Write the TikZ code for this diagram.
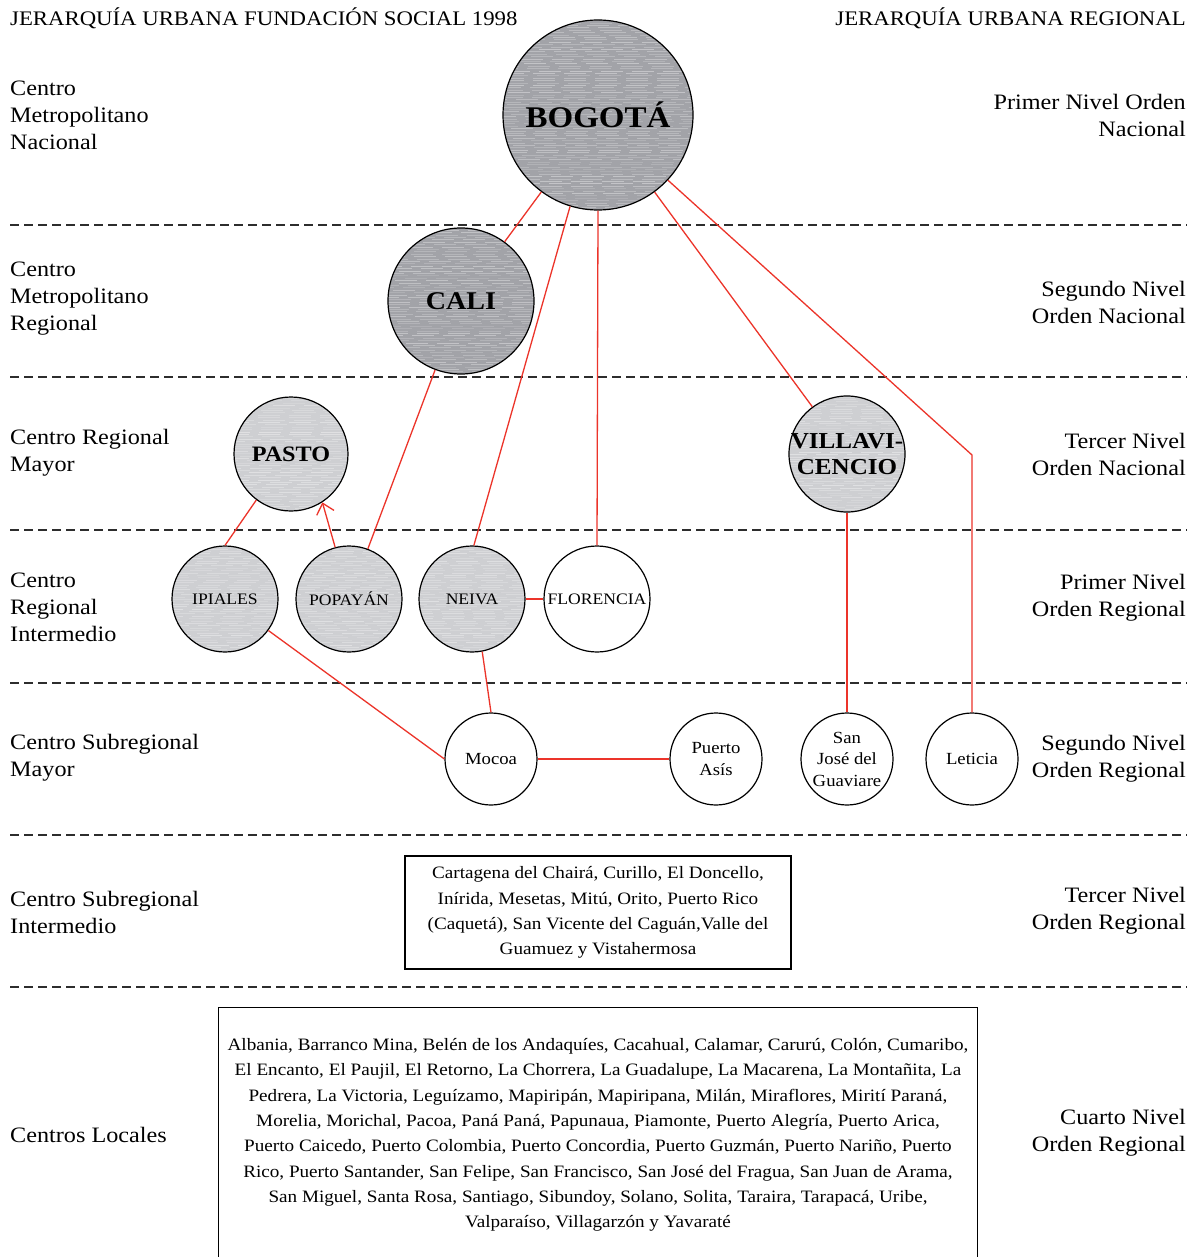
\documentclass[tikz,border=0pt]{standalone}
\usepackage{fontspec}
\setmainfont{Liberation Serif}[FakeStretch=1.1]
\usetikzlibrary{arrows.meta}
\definecolor{darkfill}{RGB}{162,163,168}
\definecolor{lightfill}{RGB}{206,207,210}
\definecolor{linkred}{RGB}{236,52,42}
\definecolor{dashgray}{RGB}{45,45,45}
\newcommand\fsz[2]{\fontsize{#1}{#2}\selectfont}
\tikzset{
  streaks/.style={path picture={
    \foreach \k in {0,...,80}{
      \pgfmathsetmacro\ph{rnd*40}
      \pgfmathsetmacro\op{0.12+0.25*rnd}
      \draw[white,opacity=\op,line width=0.5pt,dash pattern=on 22pt off 9pt,dash phase=\ph pt]
        ([yshift=\k*2.4pt]path picture bounding box.south west) --
        ([yshift=\k*2.4pt]path picture bounding box.south east);
    }}},
  city/.style={circle,draw=black,line width=1.2pt,inner sep=0pt,align=center},
  bigcity/.style={city,fill=darkfill,streaks},
  midcity/.style={city,fill=lightfill,streaks},
  plaincity/.style={city,fill=white},
  levlabel/.style={inner sep=0pt,font=\fsz{22}{27}},
  leftlab/.style={levlabel,anchor=west,align=left},
  rightlab/.style={levlabel,anchor=east,align=right},
  sep/.style={dashgray,line width=1.3pt,dash pattern=on 9pt off 5pt},
  link/.style={linkred,line width=1.3pt},
  listbox/.style={draw=black,line width=1.2pt,align=center,inner sep=0pt,font=\fsz{17.4}{25.3}}
}
\begin{document}
\begin{tikzpicture}[x=1pt,y=-1pt]
\useasboundingbox[fill=white] (0,0) rectangle (1196,1257);

% headers
\node[inner sep=0pt,anchor=west,font=\fsz{20.7}{25}] (hl) at (10,18) {JERARQUÍA URBANA FUNDACIÓN SOCIAL 1998};
\node[inner sep=0pt,anchor=east,font=\fsz{20.7}{25}] (hr) at (1186,18) {JERARQUÍA URBANA REGIONAL};

% separators
\foreach \yy in {225,377,530,683,835,987}{
  \draw[sep] (10,\yy) -- (1187,\yy);
}

% left labels
\node[leftlab] (l1) at (10,115) {Centro\\Metropolitano\\Nacional};
\node[leftlab] (l2) at (10,299) {Centro\\Metropolitano\\Regional};
\node[leftlab] (l3) at (10,453) {Centro Regional\\Mayor};
\node[leftlab] (l4) at (10,607) {Centro\\Regional\\Intermedio};
\node[leftlab] (l5) at (10,758) {Centro Subregional\\Mayor};
\node[leftlab] (l6) at (10,912.5) {Centro Subregional\\Intermedio};
\node[leftlab] (l7) at (10,1135) {Centros Locales};

% right labels
\node[rightlab] (r1) at (1186,115.5) {Primer Nivel Orden\\Nacional};
\node[rightlab] (r2) at (1186,302.5) {Segundo Nivel\\Orden Nacional};
\node[rightlab] (r3) at (1186,454.5) {Tercer Nivel\\Orden Nacional};
\node[rightlab] (r4) at (1186,597.5) {Primer Nivel\\Orden Regional};
\node[rightlab] (r5) at (1186,758.5) {Segundo Nivel\\Orden Regional};
\node[rightlab] (r6) at (1186,910.5) {Tercer Nivel\\Orden Regional};
\node[rightlab] (r7) at (1186,1132.5) {Cuarto Nivel\\Orden Regional};

% cities
\node[bigcity,minimum size=190pt,font=\bfseries\fsz{30}{34}] (bogota) at (598,115) {BOGOTÁ};
\node[bigcity,minimum size=146pt,font=\bfseries\fsz{25.5}{30}] (cali) at (461,301) {CALI};
\node[midcity,minimum size=114pt,font=\bfseries\fsz{22}{26}] (pasto) at (291,454) {PASTO};
\node[midcity,minimum size=116pt] (villa) at (847,454) {};
\node[inner sep=0pt,align=center,font=\bfseries\fsz{22.8}{26}] (villatext) at (villa) {VILLAVI-\\CENCIO};
\node[midcity,minimum size=106pt,font=\fsz{16}{20}] (ipiales) at (225,599) {IPIALES};
\node[midcity,minimum size=106pt,font=\fsz{16}{20}] (popayan) at (349,599) {POPAYÁN};
\node[midcity,minimum size=106pt,font=\fsz{16}{20}] (neiva) at (472,599) {NEIVA};
\node[plaincity,minimum size=106pt,font=\fsz{16}{20}] (florencia) at (597,599) {FLORENCIA};
\node[plaincity,minimum size=92pt,font=\fsz{17}{21.5}] (mocoa) at (491,759) {Mocoa};
\node[plaincity,minimum size=92pt,font=\fsz{17}{21.5}] (asis) at (716,759) {Puerto\\Asís};
\node[plaincity,minimum size=92pt] (sanjose) at (847,759) {};
\node[inner sep=0pt,align=center,font=\fsz{17}{21.5}] (sanjosetext) at (sanjose) {San\\José del\\Guaviare};
\node[plaincity,minimum size=92pt,font=\fsz{17}{21.5}] (leticia) at (972,759) {Leticia};

% boxes
\node[listbox,minimum width=386pt,minimum height=113pt] (box1) at (598,912.5)
 {Cartagena del Chairá, Curillo, El Doncello,\\
  Inírida, Mesetas, Mitú, Orito, Puerto Rico\\
  (Caquetá), San Vicente del Caguán,Valle del\\
  Guamuez y Vistahermosa};
\node[listbox,draw=none,minimum width=758pt,minimum height=254pt] (box2) at (598,1135)
 {Albania, Barranco Mina, Belén de los Andaquíes, Cacahual, Calamar, Carurú, Colón, Cumaribo,\\
  El Encanto, El Paujil, El Retorno, La Chorrera, La Guadalupe, La Macarena, La Montañita, La\\
  Pedrera, La Victoria, Leguízamo, Mapiripán, Mapiripana, Milán, Miraflores, Mirití Paraná,\\
  Morelia, Morichal, Pacoa, Paná Paná, Papunaua, Piamonte, Puerto Alegría, Puerto Arica,\\
  Puerto Caicedo, Puerto Colombia, Puerto Concordia, Puerto Guzmán, Puerto Nariño, Puerto\\
  Rico, Puerto Santander, San Felipe, San Francisco, San José del Fragua, San Juan de Arama,\\
  San Miguel, Santa Rosa, Santiago, Sibundoy, Solano, Solita, Taraira, Tarapacá, Uribe,\\
  Valparaíso, Villagarzón y Yavaraté};
\draw[black,line width=1.2pt] (box2.south west) -- (box2.north west) -- (box2.north east) -- (box2.south east);

% connectors
\coordinate (letbend) at (972,455);
\draw[link] (bogota) -- (cali);
\draw[link] (bogota.253.5) -- (neiva.88);
\draw[link] (bogota.south) -- (florencia.north);
\draw[link] (bogota) -- (villa);
\draw[link] (bogota.-43) -- (letbend) -- (leticia.north);
\draw[link] (cali) -- (popayan);
\draw[link,-{Straight Barb[length=10pt,width=18pt]}] (popayan.105) -- (pasto.-57);
\draw[link] (pasto.233.5) -- (ipiales.north);
\draw[link] (ipiales.-36) -- (mocoa.west);
\draw[link] (neiva.-79) -- (mocoa.north);
\draw[link] (neiva.east) -- (florencia.west);
\draw[link] (mocoa.east) -- (asis.west);
\draw[link] (villa.south) -- (sanjose.north);
\end{tikzpicture}
\end{document}
